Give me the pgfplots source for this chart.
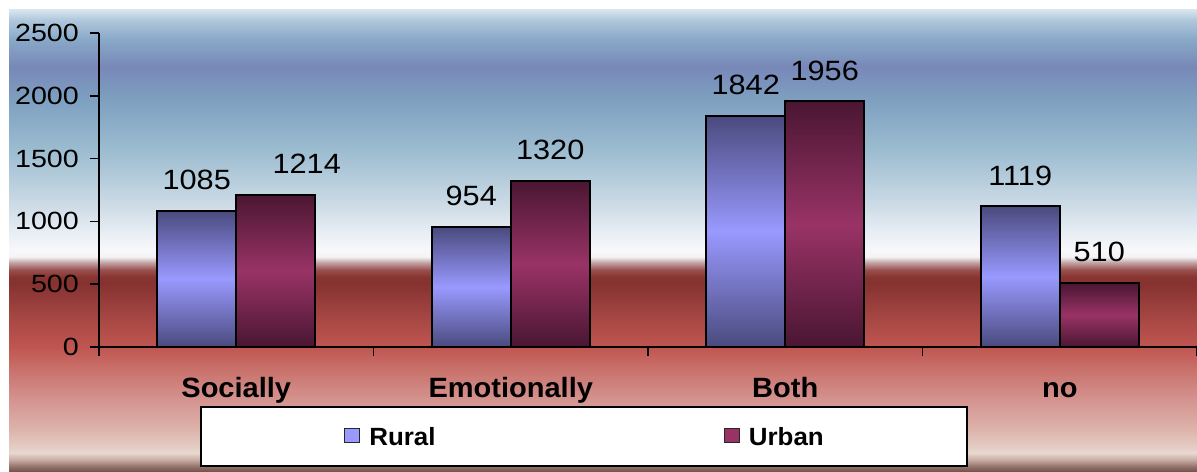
\documentclass[border=0pt]{standalone}
\usepackage{fontspec}
\setmainfont{Liberation Sans}
\newfontfamily\tickf[FakeStretch=1.15]{Liberation Sans}
\newfontfamily\numf[FakeStretch=1.10]{Liberation Sans}
\newfontfamily\catf[FakeStretch=1.04]{Liberation Sans}
\usepackage{pgfplots}
\pgfplotsset{compat=1.18}

% bar colours
\definecolor{ruralL}{HTML}{9999FF}
\definecolor{ruralD}{HTML}{4A4A7E}
\definecolor{urbanL}{HTML}{993366}
\definecolor{urbanD}{HTML}{4A1632}

% background band colours, bottom to top
\definecolor{g00}{HTML}{705048}
\definecolor{g01}{HTML}{907068}
\definecolor{g02}{HTML}{C8ACA4}
\definecolor{g03}{HTML}{E8D8D0}
\definecolor{g04}{HTML}{E4CCC4}
\definecolor{g05}{HTML}{DCB0A8}
\definecolor{g06}{HTML}{D49490}
\definecolor{g07}{HTML}{C86E68}
\definecolor{g08}{HTML}{C05550}
\definecolor{g09}{HTML}{A84844}
\definecolor{g10}{HTML}{953C3A}
\definecolor{g11}{HTML}{863230}
\definecolor{g12}{HTML}{883530}
\definecolor{g13}{HTML}{9A5050}
\definecolor{g14}{HTML}{C0A0A0}
\definecolor{g15}{HTML}{F4F2F4}
\definecolor{g16}{HTML}{F8F8FA}
\definecolor{g17}{HTML}{E8EEF4}
\definecolor{g18}{HTML}{C8D8E4}
\definecolor{g19}{HTML}{9CBCD0}
\definecolor{g20}{HTML}{7EA0C0}
\definecolor{g21}{HTML}{7888B8}
\definecolor{g22}{HTML}{88A8C8}
\definecolor{g23}{HTML}{B0C8DC}
\definecolor{g24}{HTML}{DCE8F0}

\pgfdeclareverticalshading{bgshade}{1188bp}{%
  color(0bp)=(g00); color(5bp)=(g01); color(12bp)=(g02); color(19bp)=(g03);
  color(25bp)=(g04); color(45bp)=(g05); color(72bp)=(g06); color(105bp)=(g07);
  color(125bp)=(g08); color(152bp)=(g09); color(172bp)=(g10); color(189bp)=(g11);
  color(195bp)=(g12); color(202bp)=(g13); color(209bp)=(g14); color(215bp)=(g15);
  color(222bp)=(g16); color(239bp)=(g17); color(272bp)=(g18); color(322bp)=(g19);
  color(372bp)=(g20); color(405bp)=(g21); color(432bp)=(g22); color(452bp)=(g23);
  color(463bp)=(g24)}

\pgfplotsset{
  rural/.style={forget plot, bar shift=-39.5bp, draw=black, line width=2bp,
                top color=ruralD, bottom color=ruralD, middle color=ruralL},
  urban/.style={forget plot, bar shift=39.5bp, draw=black, line width=2bp,
                top color=urbanD, bottom color=urbanD, middle color=urbanL},
}

\begin{document}
\begin{tikzpicture}
\fill[white] (0bp,0bp) rectangle (1197bp,472bp);
\node[inner sep=0pt, anchor=south west] at (9bp,0bp) {\pgfuseshading{bgshade}};

\begin{axis}[
  at={(99bp,125bp)}, anchor=south west,
  scale only axis, width=1098bp, height=314bp,
  xmin=-0.5, xmax=3.5, ymin=0, ymax=2500,
  axis x line*=bottom, axis y line*=left,
  axis line style={-, black, line width=1.5bp},
  tick align=outside, major tick length=9bp,
  tick style={black, line width=1.5bp},
  ytick={0,500,1000,1500,2000,2500},
  scaled y ticks=false,
  /pgf/number format/1000 sep={},
  /pgf/number format/assume math mode=true,
  yticklabel style={font=\tickf\fontsize{25}{25}\selectfont, anchor=east,
                    inner sep=0pt, xshift=-11bp},
  xtick={-0.5,0.5,1.5,2.5,3.5},
  x tick label as interval,
  xticklabels={Socially,Emotionally,Both,no},
  xticklabel style={font=\catf\bfseries\fontsize{28}{28}\selectfont,
                    anchor=base, inner sep=0pt, yshift=-41bp},
  ybar, bar width=79bp,
  nodes near coords,
  nodes near coords style={font=\numf\fontsize{28}{28}\selectfont,
                           text=black, anchor=south, inner sep=0pt, yshift=20bp},
  legend columns=2,
  legend cell align=left,
  legend style={at={(0.092,-0.382)}, anchor=south west, draw=black,
                line width=1.8bp, fill=white, inner xsep=143bp, inner ysep=20.5bp,
                font=\catf\bfseries\fontsize{25}{25}\selectfont,
                column sep=9bp,
                /tikz/every even column/.append style={column sep=288bp},
                nodes={inner sep=0pt, text height=18bp, text depth=0pt}},
]

% ---- Rural, one bar per plot so each bar gets its own gradient ----
\addplot[rural] coordinates {(0,1085)};
\addplot[rural] coordinates {(1,954)};
\addplot[rural] coordinates {(2,1842)};
\addplot[rural] coordinates {(3,1119)};

% ---- Urban (the 1214 label sits off to the right in the original) ----
\addplot[urban, every node near coord/.append style={xshift=31bp}]
  coordinates {(0,1214)};
\addplot[urban] coordinates {(1,1320)};
\addplot[urban] coordinates {(2,1956)};
\addplot[urban] coordinates {(3,510)};

\addlegendimage{legend image code/.code={%
  \draw[fill=ruralL, draw=black!85, line width=1.4bp] (0bp,-6bp) rectangle (15bp,8bp);}}
\addlegendentry{Rural}
\addlegendimage{legend image code/.code={%
  \draw[fill=urbanL, draw=black!85, line width=1.4bp] (0bp,-6bp) rectangle (15bp,8bp);}}
\addlegendentry{Urban}
\end{axis}

\pgfresetboundingbox
\useasboundingbox (0bp,0bp) rectangle (1197bp,472bp);
\end{tikzpicture}
\end{document}
